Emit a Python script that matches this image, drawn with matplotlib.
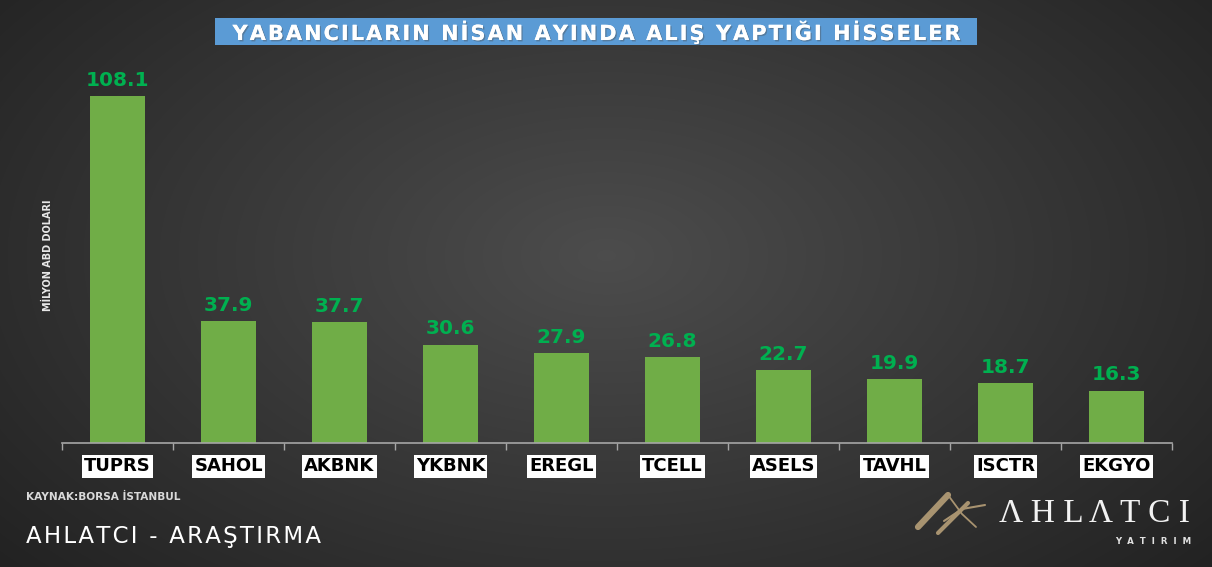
import matplotlib
matplotlib.use("Agg")
import matplotlib.pyplot as plt
import matplotlib.patheffects as pe
from matplotlib.lines import Line2D
from matplotlib.patches import Rectangle
import numpy as np

hisseler = ["TUPRS", "SAHOL", "AKBNK", "YKBNK", "EREGL", "TCELL", "ASELS", "TAVHL", "ISCTR", "EKGYO"]
alis = [108.1, 37.9, 37.7, 30.6, 27.9, 26.8, 22.7, 19.9, 18.7, 16.3]

baslik = "YABANCILARIN NİSAN AYINDA ALIŞ YAPTIĞI HİSSELER"
y_etiket = "MİLYON ABD DOLARI"
kaynak = "KAYNAK:BORSA İSTANBUL"
alt_yazi = "AHLATCI - ARAŞTIRMA"

W, H = 1212, 567
fig = plt.figure(figsize=(W / 100, H / 100), dpi=100)


def px(x, y):
    return x / W, 1 - y / H


def aralikli(s, sep="\u2009"):
    return sep.join(s)


# arka plan: ortası açık, kenarları koyu gri
bg = fig.add_axes([0, 0, 1, 1], zorder=0)
yy, xx = np.mgrid[0:H, 0:W]
r = np.sqrt(((xx - W * 0.5) / (W * 0.6)) ** 2 + ((yy - H * 0.45) / (H * 0.75)) ** 2)
shade = np.clip(0.30 - 0.15 * r, 0.13, 0.30)
bg.imshow(np.dstack([shade] * 3), aspect="auto", extent=[0, 1, 0, 1])
bg.set_xlim(0, 1)
bg.set_ylim(0, 1)
bg.axis("off")

ax = fig.add_axes([62 / W, 124 / H, 1110 / W, 385 / H], zorder=1)
ax.patch.set_alpha(0)
x = np.arange(len(hisseler))
ax.bar(x, alis, width=0.5, color="#70ad47")
for xi, v in zip(x, alis):
    ax.text(xi, v + 2.0, f"{v:.1f}", ha="center", va="bottom", color="#00b050",
            fontsize=14.5, fontweight="bold", family="DejaVu Sans")

ax.set_xlim(-0.5, len(hisseler) - 0.5)
ax.set_ylim(0, 120)
for s in ["top", "right", "left"]:
    ax.spines[s].set_visible(False)
ax.spines["bottom"].set_color("#a6a6a6")
ax.spines["bottom"].set_linewidth(1.2)
ax.set_yticks([])
ax.set_xticks(np.arange(len(hisseler) + 1) - 0.5)
ax.set_xticklabels([])
ax.tick_params(axis="x", colors="#a6a6a6", length=5, width=1)
for xi, h in zip(x, hisseler):
    ax.text(xi, -4.5, h, ha="center", va="top", fontsize=13, color="black",
            family="DejaVu Sans", fontweight="semibold",
            bbox=dict(boxstyle="square,pad=0.12", fc="white", ec="none"))

fig.text(*px(48, 255), y_etiket, rotation=90, ha="center", va="center",
         color="#e8e8e8", fontsize=7, fontweight="bold", family="DejaVu Sans")

# başlık kutusu
fig.add_artist(Rectangle(px(215, 45), 762 / W, 27 / H, transform=fig.transFigure,
                         fc="#5b9bd5", ec="none", zorder=2))
t = fig.text(*px(597, 32), aralikli(baslik, "\u200a"), ha="center", va="center", color="white",
             fontsize=15, fontweight="bold", family="DejaVu Sans", zorder=3)
t.set_path_effects([pe.withSimplePatchShadow(offset=(1, -1), alpha=0.4), pe.Normal()])

fig.text(*px(26, 497), kaynak, ha="left", va="center", color="#d9d9d9",
         fontsize=7.6, fontweight="semibold", family="DejaVu Sans")
fig.text(*px(26, 537), aralikli(alt_yazi, "\u200a"), ha="left", va="center", color="white",
         fontsize=16.5, family="DejaVu Sans")

# logo
gold = "#a89370"
for (xs, ys, lw) in [([918, 948], [527, 495], 4.5),
                     ([948, 962, 976], [495, 514, 527], 1.3),
                     ([938, 968], [533, 503], 3),
                     ([944, 962, 985], [521, 509, 505], 1.5)]:
    fig.add_artist(Line2D(np.array(xs) / W, 1 - np.array(ys) / H, color=gold,
                          lw=lw, solid_capstyle="round", transform=fig.transFigure))
fig.text(*px(1094, 514), " ".join("ΛHLΛTCI"), ha="center", va="center", color="#f2f2f2",
         fontsize=24, family="Liberation Serif")
fig.text(*px(1153, 541), "Y  A  T  I  R  I  M", ha="center", va="center", color="#e0e0e0",
         fontsize=6.2, fontweight="bold", family="DejaVu Sans")

fig.savefig("out.png", dpi=100)
